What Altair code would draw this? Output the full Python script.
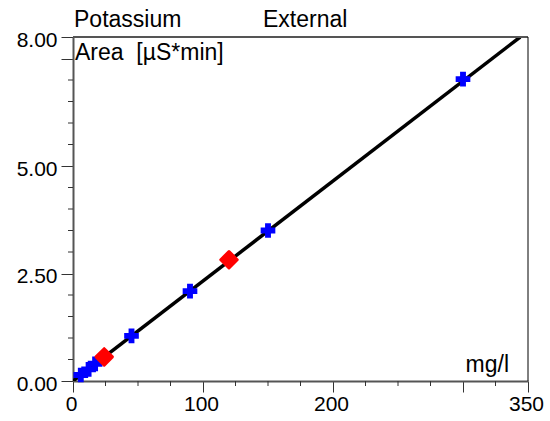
import altair as alt
import pandas as pd

# ---- data ----
std_conc = [6, 12, 17, 45, 90, 150, 300]
std_area = [0.14, 0.27, 0.40, 1.05, 2.09, 3.50, 7.02]
smp_conc = [24, 120]
smp_area = [0.56, 2.82]
fit_conc = [0, 344]
fit_area = [0.0, 8.0]

x_major = [0, 100, 200, 300, 350]
x_minor = [25, 50, 75, 125, 150, 175, 225, 250, 275, 325]
y_major = [0, 2.5, 5, 7.5, 8]
y_minor = [0.5, 1.0, 1.5, 2.0, 3.0, 3.5, 4.0, 4.5, 5.5, 6.0, 6.5, 7.0]

header_texts = ["Potassium", "External"]
y_title = "Area\u00a0\u00a0[µS*min]"
x_unit = "mg/l"

W, H = 455, 344
FONT = "Liberation Sans"

xs = alt.Scale(domain=[0, 350], nice=False, zero=False)
ys = alt.Scale(domain=[0, 8], nice=False, zero=False)

fit_df = pd.DataFrame({"conc": fit_conc, "area": fit_area})
std_df = pd.DataFrame({"conc": std_conc, "area": std_area})
smp_df = pd.DataFrame({"conc": smp_conc, "area": smp_area})

x_axis = alt.Axis(
    values=x_major, title=None, grid=False,
    labelExpr="datum.value == 300 ? '' : format(datum.value, 'd')",
    labelFont=FONT, labelFontSize=21, labelColor="black",
    labelFlush=False, labelOverlap=False, labelPadding=1, labelOffset=-2,
    tickSize=11, tickColor="#333333", tickWidth=1,
    domainColor="#555555", domainWidth=2,
)
y_axis = alt.Axis(
    values=y_major, title=None, grid=False,
    labelExpr="datum.value == 7.5 ? '' : format(datum.value, '.2f')",
    labelFont=FONT, labelFontSize=21, labelColor="black",
    labelFlush=False, labelOverlap=False, labelPadding=4, labelOffset=3,
    tickSize=12, tickColor="#333333", tickWidth=1,
    domainColor="#555555", domainWidth=2,
)


def X(field="conc"):
    return alt.X(f"{field}:Q", scale=xs, axis=x_axis, title=None)


def Y(field="area"):
    return alt.Y(f"{field}:Q", scale=ys, axis=y_axis, title=None)


fit_line = alt.Chart(fit_df).mark_line(color="black", strokeWidth=3.5, clip=True).encode(
    x=X(), y=Y(),
)

std_pts = alt.Chart(std_df).mark_point(
    shape="cross", filled=True, color="#0000FF", size=215, opacity=1
).encode(x=X(), y=Y())

smp_pts = alt.Chart(smp_df).mark_point(
    shape="diamond", filled=True, color="#FF0000", size=270, opacity=1,
    stroke="#FF0000", strokeWidth=3, strokeJoin="round",
).encode(x=X(), y=Y())

x_minor_ticks = alt.Chart(pd.DataFrame({"conc": x_minor})).mark_rule(
    color="#333333", strokeWidth=1
).encode(x=X(), y=alt.value(H), y2=alt.value(H + 5))

y_minor_ticks = alt.Chart(pd.DataFrame({"area": y_minor})).mark_rule(
    color="#333333", strokeWidth=1
).encode(y=Y(), x=alt.value(-5), x2=alt.value(0))

top_border = alt.Chart(pd.DataFrame({"a": [0]})).mark_rule(
    color="#555555", strokeWidth=2
).encode(x=alt.value(0), x2=alt.value(W), y=alt.value(0))

right_border = alt.Chart(pd.DataFrame({"a": [0]})).mark_rule(
    color="black", strokeWidth=1
).encode(x=alt.value(W), y=alt.value(0), y2=alt.value(H))

hdr1 = alt.Chart(pd.DataFrame({"t": [header_texts[0]]})).mark_text(
    font=FONT, fontSize=23, align="left", baseline="alphabetic", color="black"
).encode(text="t:N", x=alt.value(1), y=alt.value(-10))

hdr2 = alt.Chart(pd.DataFrame({"t": [header_texts[1]]})).mark_text(
    font=FONT, fontSize=23, align="left", baseline="alphabetic", color="black"
).encode(text="t:N", x=alt.value(190), y=alt.value(-10))

ytitle = alt.Chart(pd.DataFrame({"t": [y_title]})).mark_text(
    font=FONT, fontSize=23, align="left", baseline="alphabetic", color="black"
).encode(text="t:N", x=alt.value(2), y=alt.value(23))

xunit = alt.Chart(pd.DataFrame({"t": [x_unit]})).mark_text(
    font=FONT, fontSize=23, align="right", baseline="alphabetic", color="black"
).encode(text="t:N", x=alt.value(436), y=alt.value(335))

chart = alt.layer(
    fit_line, x_minor_ticks, y_minor_ticks, top_border, right_border,
    std_pts, smp_pts, hdr1, hdr2, ytitle, xunit,
).properties(
    width=W, height=H,
    autosize=alt.AutoSizeParams(type="none"),
    padding={"left": 73, "top": 37, "right": 22, "bottom": 40},
    background="white",
).configure_view(stroke=None)

chart.save("out.html", embed_options={"renderer": "svg", "actions": False})
